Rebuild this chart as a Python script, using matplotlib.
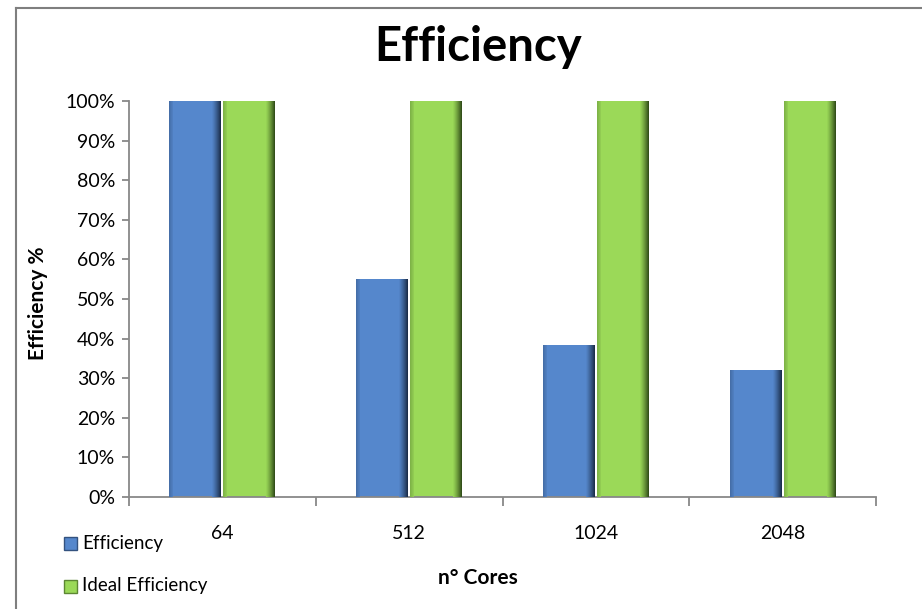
import matplotlib
matplotlib.use("Agg")
import matplotlib.pyplot as plt
from matplotlib.lines import Line2D
from matplotlib.patches import Rectangle
from matplotlib.colors import to_rgb
import numpy as np

categories = ["64", "512", "1024", "2048"]
efficiency = [100, 55, 38.5, 32]
ideal = [100, 100, 100, 100]
series_names = ["Efficiency", "Ideal Efficiency"]

plt.rcParams['font.family'] = ['Lato', 'DejaVu Sans']

W, H = 922, 609
fig = plt.figure(figsize=(W / 100, H / 100), dpi=100)
ax = fig.add_axes([129 / W, (H - 497) / H, (876 - 129) / W, (497 - 101) / H])

x = np.arange(len(categories))
px = 1.0 / 187.0          # one pixel in data units (x)
bw = 52 * px
gap = 2 * px

blue = "#5587CC"
blue_dark = "#1C2F4C"
green = "#9BD958"
green_dark = "#33501A"

def mix(c1, c2, t):
    a, b = np.array(to_rgb(c1)), np.array(to_rgb(c2))
    return tuple(a * (1 - t) + b * t)

def draw_bars(xc, vals, main, dark):
    ax.bar(xc, vals, width=bw, color=main, edgecolor="none", zorder=2)
    # left soft bevel
    for k in range(4):
        ax.bar(xc - bw / 2 + (k + 0.5) * px, vals, width=px * 1.05,
               color=mix(main, dark, 0.28 - 0.06 * k), edgecolor="none", zorder=3)
    # right dark gradient bevel
    n = 9
    for k in range(n):
        t = (k + 1) / n
        ax.bar(xc + bw / 2 - (n - k - 0.5) * px, vals, width=px * 1.05,
               color=mix(main, dark, t ** 1.3), edgecolor="none", zorder=3)

xb = x - bw / 2 - gap / 2
xg = x + bw / 2 + gap / 2
draw_bars(xb, efficiency, blue, blue_dark)
draw_bars(xg, ideal, green, green_dark)

ax.set_xlim(-0.5, len(categories) - 0.5)
ax.set_ylim(0, 100)
ax.set_yticks(np.arange(0, 101, 10))
ax.set_yticklabels([f"{v}%" for v in range(0, 101, 10)], fontsize=14)
ax.set_xticks(x)
ax.set_xticklabels(categories, fontsize=14)
ax.set_xticks(np.arange(-0.5, len(categories), 1), minor=True)
ax.tick_params(axis='x', which='major', length=0, pad=20)
ax.tick_params(axis='x', which='minor', length=6.5, color="#888888", width=1.3)
ax.tick_params(axis='y', length=5, color="#888888", width=1.3, pad=5)

for s in ["top", "right"]:
    ax.spines[s].set_visible(False)
for s in ["left", "bottom"]:
    ax.spines[s].set_color("#888888")
    ax.spines[s].set_linewidth(1.3)

fig.text(478 / W, 1 - 47 / H, "Efficiency", fontsize=34, fontweight="bold", ha="center", va="center")
fig.text(478 / W, 1 - 578 / H, "n° Cores", fontsize=15, fontweight="bold", ha="center", va="center")
fig.text(38 / W, 1 - 303 / H, "Efficiency %", fontsize=15, fontweight="bold", ha="center", va="center",
         rotation=90)

# legend
for i, (name, col, dk) in enumerate(zip(series_names, [blue, green], [blue_dark, green_dark])):
    yy = 1 - (543 + i * 43) / H
    fig.patches.append(Rectangle((64 / W, yy - 6.5 / H), 13 / W, 13 / H, transform=fig.transFigure,
                                 facecolor=col, edgecolor=mix(col, dk, 0.6), linewidth=1.0))
    fig.text(82 / W, yy, name, fontsize=13.5, va="center", ha="left")

# outer border
fig.add_artist(Line2D([16 / W, 16 / W], [0, 1 - 8 / H], transform=fig.transFigure, color="#7f7f7f", lw=1.5))
fig.add_artist(Line2D([16 / W, 1], [1 - 8 / H, 1 - 8 / H], transform=fig.transFigure, color="#7f7f7f", lw=1.5))

fig.savefig("out.png", dpi=100)
